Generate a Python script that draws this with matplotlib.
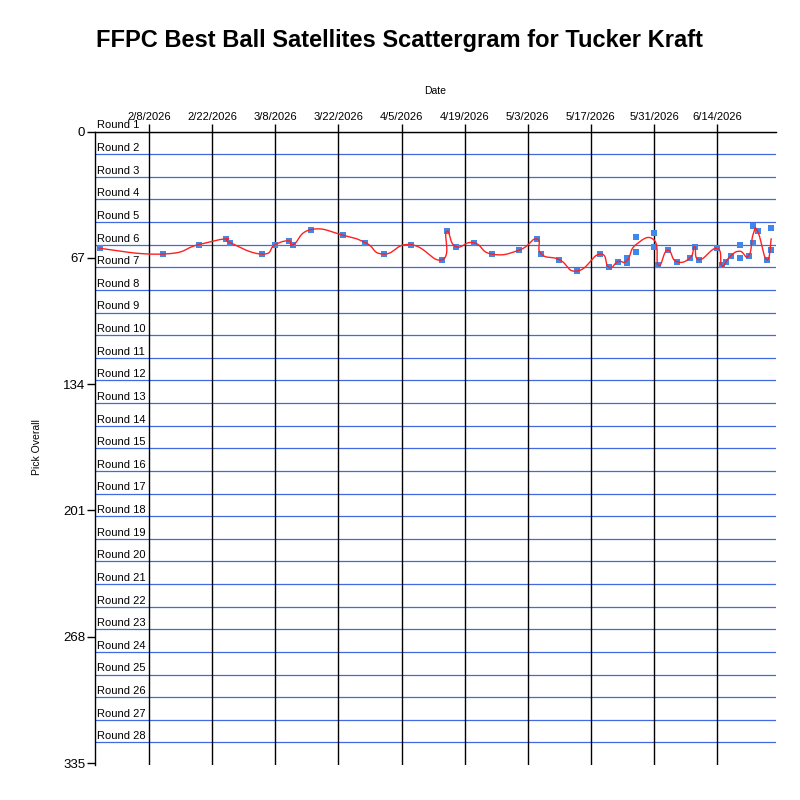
import numpy as np
import pandas as pd
import matplotlib
matplotlib.use("Agg")
import matplotlib.pyplot as plt
import matplotlib.dates as mdates
import matplotlib.transforms as mtransforms

plt.rcParams['font.family'] = ['Liberation Sans', 'DejaVu Sans']

# DATOS --------------------------------------------------------------------
player = "Tucker Kraft"

pick_dates = ["2026-01-28", "2026-02-11", "2026-02-19", "2026-02-25", "2026-02-26",
              "2026-03-05", "2026-03-08", "2026-03-11", "2026-03-12", "2026-03-16",
              "2026-03-23", "2026-03-28", "2026-04-01", "2026-04-07", "2026-04-14",
              "2026-04-15", "2026-04-17", "2026-04-21", "2026-04-25", "2026-05-01",
              "2026-05-05", "2026-05-06", "2026-05-10", "2026-05-14", "2026-05-19",
              "2026-05-21", "2026-05-23", "2026-05-25", "2026-05-25", "2026-05-27",
              "2026-05-27", "2026-05-31", "2026-05-31", "2026-06-01", "2026-06-03",
              "2026-06-05", "2026-06-08", "2026-06-09", "2026-06-10", "2026-06-14",
              "2026-06-15", "2026-06-16", "2026-06-17", "2026-06-19", "2026-06-19",
              "2026-06-21", "2026-06-22", "2026-06-22", "2026-06-23", "2026-06-25",
              "2026-06-26", "2026-06-26"]
picks = [62, 65, 60, 57, 59,
         65, 60, 58, 60, 52,
         55, 59, 65, 60, 68,
         53, 61, 59, 65, 63,
         57, 65, 68, 74, 65,
         72, 69, 67, 70, 56,
         64, 54, 61, 71, 63,
         69, 67, 61, 68, 62,
         71, 69, 66, 60, 67,
         66, 50, 59, 53, 68,
         51, 63]

date_ticks = ["2026-02-08", "2026-02-22", "2026-03-08", "2026-03-22", "2026-04-05",
              "2026-04-19", "2026-05-03", "2026-05-17", "2026-05-31", "2026-06-14"]
y_ticks = [0, 67, 134, 201, 268, 335]
n_rounds = 28
n_teams = 12
date_min = "2026-01-27"
date_max = "2026-06-27"


# spline cardinal (como DrawCurve de GDI+)
def cardinal_spline(xs, ys, tension=0.8, n=30):
    px = np.concatenate([[xs[0]], xs, [xs[-1]]])
    py = np.concatenate([[ys[0]], ys, [ys[-1]]])
    t = np.linspace(0, 1, n)[:, None]
    out = []
    for i in range(1, len(px) - 2):
        p0 = np.array([px[i], py[i]])
        p3 = np.array([px[i + 1], py[i + 1]])
        c1 = p0 + tension / 3 * np.array([px[i + 1] - px[i - 1], py[i + 1] - py[i - 1]])
        c2 = p3 - tension / 3 * np.array([px[i + 2] - px[i], py[i + 2] - py[i]])
        seg = ((1 - t) ** 3) * p0 + 3 * ((1 - t) ** 2) * t * c1 + 3 * (1 - t) * t ** 2 * c2 + t ** 3 * p3
        out.append(seg)
    out = np.vstack(out)
    return out[:, 0], out[:, 1]


x = mdates.date2num(pd.to_datetime(pick_dates))
df = pd.DataFrame({"x": x, "pick": picks})
mean_df = df.groupby("x", as_index=False)["pick"].mean()
sx, sy = cardinal_spline(mean_df["x"].values, mean_df["pick"].values)

# GRAFICO ------------------------------------------------------------------
fig = plt.figure(figsize=(8, 8), dpi=100)
ax = fig.add_axes([95 / 800, 1 - 765 / 800, 680.7 / 800, (765 - 131.5) / 800])

ax.set_xlim(mdates.date2num(pd.Timestamp(date_min)), mdates.date2num(pd.Timestamp(date_max)))
ax.set_ylim(n_rounds * n_teams, 0)

# lineas de rondas
for r in range(n_rounds):
    ax.axhline(r * n_teams, color="#4169E1", lw=0.9, zorder=1)

# etiquetas de rondas
trans = mtransforms.blended_transform_factory(ax.transAxes, ax.transData)
for r in range(1, n_rounds + 1):
    ax.text(0.003, n_teams * (r - 1) - 1.6, "Round {}".format(r), transform=trans,
            fontsize=8, ha="left", va="baseline", color="black", clip_on=False, zorder=4)

# eje x arriba
tick_nums = mdates.date2num(pd.to_datetime(date_ticks))
tick_labels = ["{}/{}/{}".format(d.month, d.day, d.year) for d in pd.to_datetime(date_ticks)]
ax.xaxis.tick_top()
ax.set_xticks(tick_nums)
ax.set_xticklabels(tick_labels, fontsize=8)
ax.tick_params(axis="x", length=6, width=1.0, pad=1)
for tx in tick_nums:
    ax.axvline(tx, color="black", lw=1.0, zorder=1)

ax.set_yticks(y_ticks)
ax.set_yticklabels([str(v) for v in y_ticks], fontsize=9.5)
ax.tick_params(axis="y", length=6, width=1.0, pad=1)

ax.spines["right"].set_visible(False)
ax.spines["bottom"].set_visible(False)
ax.spines["left"].set_linewidth(1.0)
ax.spines["top"].set_linewidth(1.0)

ax.plot(x, picks, "s", color="#3F87E8", markersize=4.3, markeredgewidth=0, zorder=2)
ax.plot(sx, sy, color="#FF2020", lw=1.0, zorder=3)

fig.text(0.5, 1 - 40 / 800, "FFPC Best Ball Satellites Scattergram for " + player,
         fontsize=17, fontweight="bold", ha="center", va="center")
fig.text(435 / 800, 1 - 91 / 800, "Date", fontsize=7.5, ha="center", va="center")
fig.text(37 / 800, 1 - 447 / 800, "Pick Overall", fontsize=7.5, rotation=90,
         ha="center", va="center")

fig.savefig("out.png", dpi=100)
